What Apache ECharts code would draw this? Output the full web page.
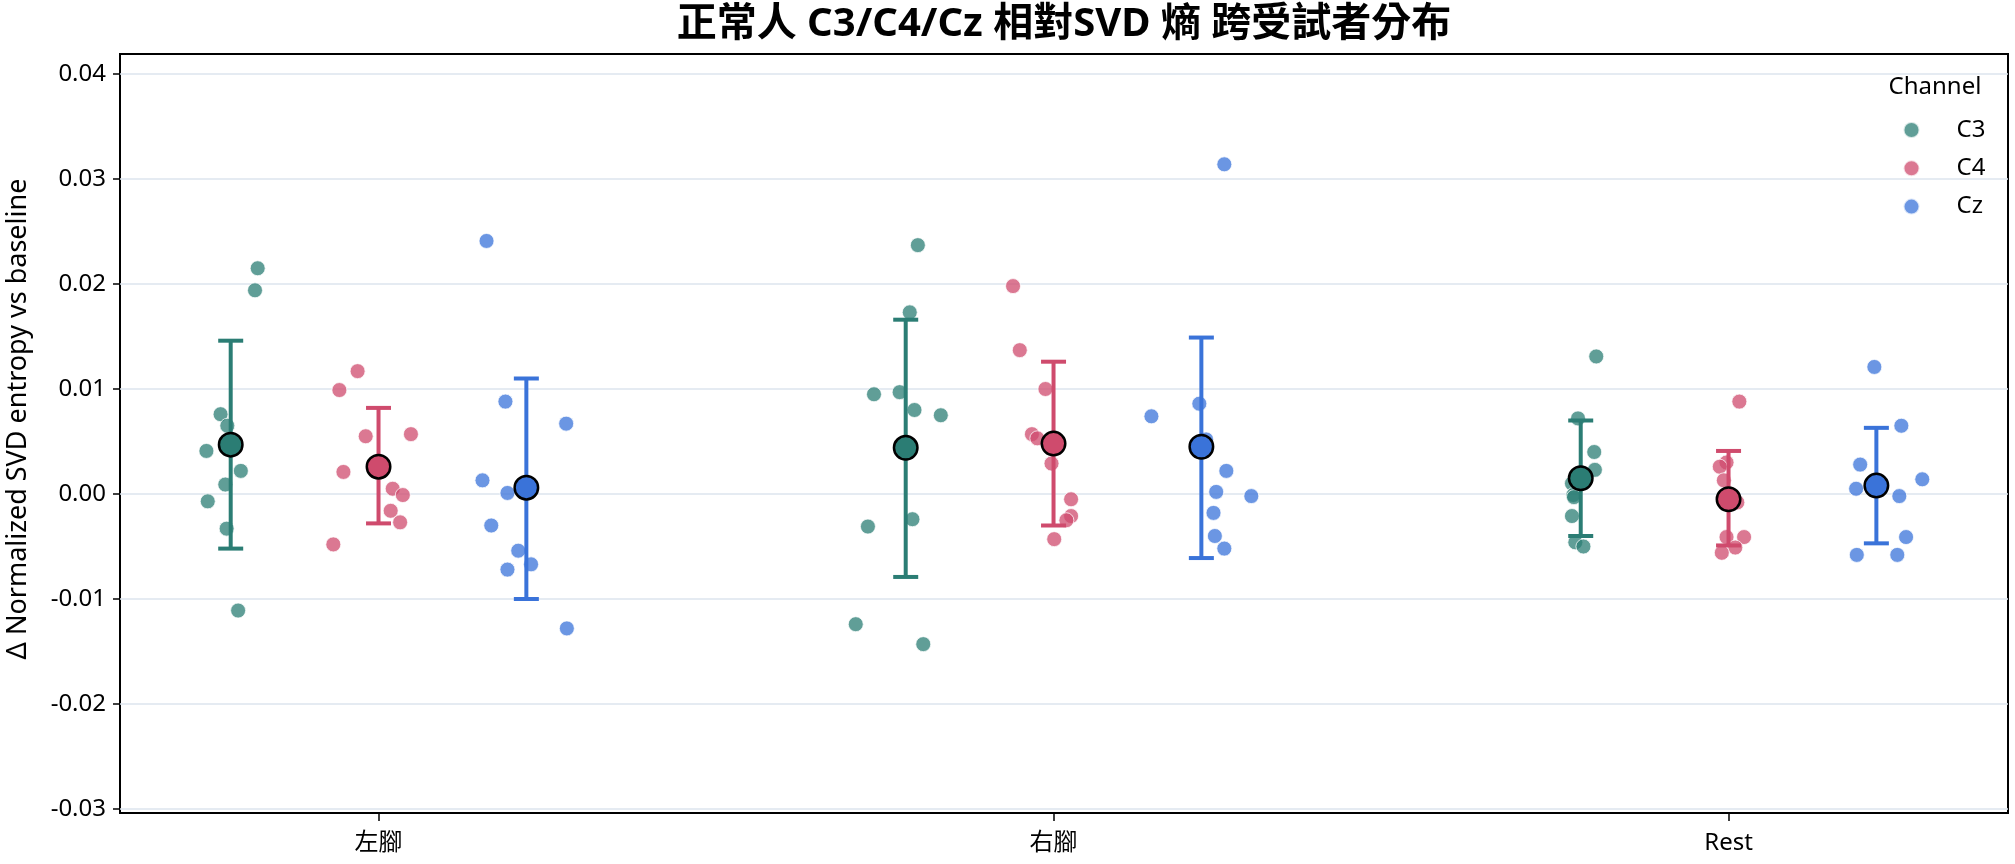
<!DOCTYPE html>
<html>
<head>
<meta charset="utf-8">
<title>正常人 C3/C4/Cz 相對SVD 熵 跨受試者分布</title>
<script src="https://cdn.jsdelivr.net/npm/echarts@6/dist/echarts.min.js"></script>
<style>
  html, body { margin: 0; padding: 0; background: #fff; }
  #main { width: 2015px; height: 864px; }
</style>
</head>
<body>
<div id="main"></div>
<script>
// 類別 / 通道
var categories = ['左腳', '右腳', 'Rest'];
var channels = ['C3', 'C4', 'Cz'];
// 通道在每個類別內的左右偏移 (dodge)
var dodge = [-0.219, 0, 0.219];

// 各受試者數值：[左腳], [右腳], [Rest]
var c3Values = [
    [0.0215, 0.0194, 0.0076, 0.0065, 0.0041, 0.0022, 0.0009, -0.0007, -0.0033, -0.0111],
    [0.0237, 0.0173, 0.0095, 0.0097, 0.0080, 0.0075, -0.0024, -0.0031, -0.0124, -0.0143],
    [0.0131, 0.0072, 0.0040, 0.0023, 0.0010, -0.0001, -0.0003, -0.0021, -0.0046, -0.0050]
];
var c3Jitter = [
    [0.040, 0.036, -0.015, -0.005, -0.036, 0.015, -0.008, -0.034, -0.006, 0.011],
    [0.018, 0.006, -0.047, -0.009, 0.013, 0.052, 0.010, -0.056, -0.074, 0.026],
    [0.023, -0.004, 0.020, 0.021, -0.013, -0.011, -0.010, -0.013, -0.008, 0.004]
];
var c4Values = [
    [0.0117, 0.0099, 0.0055, 0.0057, 0.0021, 0.0005, -0.0001, -0.0016, -0.0027, -0.0048],
    [0.0198, 0.0137, 0.0100, 0.0057, 0.0053, 0.0029, -0.0005, -0.0021, -0.0025, -0.0043],
    [0.0088, 0.0030, 0.0026, 0.0013, -0.0008, -0.0041, -0.0041, -0.0051, -0.0056, -0.0007]
];
var c4Jitter = [
    [-0.031, -0.058, -0.019, 0.048, -0.052, 0.021, 0.036, 0.018, 0.032, -0.067],
    [-0.060, -0.050, -0.012, -0.032, -0.024, -0.003, 0.026, 0.026, 0.019, 0.001],
    [0.016, -0.003, -0.013, -0.007, 0.013, -0.003, 0.023, 0.010, -0.010, 0.000]
];
var czValues = [
    [0.0241, 0.0088, 0.0067, 0.0013, 0.0001, -0.0030, -0.0054, -0.0067, -0.0072, -0.0128],
    [0.0314, 0.0074, 0.0086, 0.0052, 0.0022, 0.0002, -0.0002, -0.0018, -0.0040, -0.0052],
    [0.0121, 0.0065, 0.0028, 0.0014, 0.0005, -0.0002, -0.0041, -0.0058, -0.0058, 0.0007]
];
var czJitter = [
    [-0.059, -0.031, 0.059, -0.065, -0.028, -0.052, -0.012, 0.007, -0.028, 0.060],
    [0.034, -0.074, -0.003, 0.007, 0.037, 0.022, 0.074, 0.018, 0.020, 0.034],
    [-0.003, 0.037, -0.024, 0.068, -0.030, 0.034, 0.044, -0.029, 0.031, 0.000]
];

// 平均值與誤差線 (mean ± SD)
var c3Mean = [0.0047, 0.0044, 0.0015];
var c3Low = [-0.0052, -0.0079, -0.0040];
var c3High = [0.0146, 0.0166, 0.0070];
var c4Mean = [0.0026, 0.0048, -0.0005];
var c4Low = [-0.0028, -0.0030, -0.0049];
var c4High = [0.0082, 0.0126, 0.0041];
var czMean = [0.0006, 0.0045, 0.0008];
var czLow = [-0.0100, -0.0061, -0.0047];
var czHigh = [0.0110, 0.0149, 0.0063];

var colors = ['#2b7d74', '#cf4b6d', '#3a73d9'];
var FONT = "'Noto Sans', 'Noto Sans CJK TC', sans-serif";

var valueSets = [c3Values, c4Values, czValues];
var jitterSets = [c3Jitter, c4Jitter, czJitter];
var meanSets = [c3Mean, c4Mean, czMean];
var lowSets = [c3Low, c4Low, czLow];
var highSets = [c3High, c4High, czHigh];

var chart = echarts.init(document.getElementById('main'));

// 受試者散點
function buildPoints(ci) {
    var pts = [];
    for (var k = 0; k < categories.length; k++) {
        for (var i = 0; i < valueSets[ci][k].length; i++) {
            pts.push([k + dodge[ci] + jitterSets[ci][k][i], valueSets[ci][k][i]]);
        }
    }
    return pts;
}

// 誤差線 (含上下橫帽)
function errorBarRenderer(color) {
    return function (params, api) {
        var top = api.coord([api.value(0), api.value(2)]);
        var bottom = api.coord([api.value(0), api.value(1)]);
        var cap = 12.5;
        function seg(x1, y1, x2, y2) {
            return {
                type: 'line',
                shape: { x1: x1, y1: y1, x2: x2, y2: y2 },
                style: { stroke: color, lineWidth: 4, fill: null }
            };
        }
        return {
            type: 'group',
            children: [
                seg(top[0], top[1], bottom[0], bottom[1]),
                seg(top[0] - cap, top[1], top[0] + cap, top[1]),
                seg(bottom[0] - cap, bottom[1], bottom[0] + cap, bottom[1])
            ]
        };
    };
}

var series = [];
for (var ci = 0; ci < channels.length; ci++) {
    series.push({
        name: channels[ci],
        type: 'scatter',
        xAxisIndex: 0,
        yAxisIndex: 0,
        data: buildPoints(ci),
        symbolSize: 15,
        itemStyle: { color: colors[ci], opacity: 0.75, borderColor: '#fff', borderWidth: 1 },
        silent: true,
        z: 2
    });
}
for (var ci = 0; ci < channels.length; ci++) {
    var bars = [];
    var means = [];
    for (var k = 0; k < categories.length; k++) {
        bars.push([k + dodge[ci], lowSets[ci][k], highSets[ci][k]]);
        means.push([k + dodge[ci], meanSets[ci][k]]);
    }
    series.push({
        name: channels[ci] + ' sd',
        type: 'custom',
        xAxisIndex: 0,
        yAxisIndex: 0,
        data: bars,
        encode: { x: 0, y: [1, 2] },
        renderItem: errorBarRenderer(colors[ci]),
        silent: true,
        z: 3
    });
    series.push({
        name: channels[ci] + ' mean',
        type: 'scatter',
        xAxisIndex: 0,
        yAxisIndex: 0,
        data: means,
        symbolSize: 23.5,
        itemStyle: { color: colors[ci], opacity: 1, borderColor: '#000', borderWidth: 2.5 },
        silent: true,
        z: 4
    });
}

var option = {
    animation: false,
    backgroundColor: '#fff',
    textStyle: { fontFamily: FONT },
    grid: [
        // 資料區 (0.04 ~ -0.03)
        { left: 120, right: 7, top: 74, bottom: 55 },
        // 外框
        { left: 120, right: 7, top: 54, bottom: 51, show: true, borderColor: '#000', borderWidth: 2, backgroundColor: 'transparent' },
        // 類別標籤
        { left: 378.6, width: 1350, top: 54, bottom: 51 }
    ],
    xAxis: [
        { gridIndex: 0, type: 'value', min: -0.383, max: 2.414, show: false },
        { gridIndex: 1, type: 'value', min: 0, max: 1, show: false },
        {
            gridIndex: 2,
            type: 'category',
            data: categories,
            boundaryGap: false,
            axisLine: { show: false },
            axisTick: { show: true, length: 8, alignWithLabel: true, lineStyle: { color: '#000', width: 1.5 } },
            axisLabel: { interval: 0, fontSize: 24, color: '#000', margin: 18, fontFamily: FONT },
            splitLine: { show: false }
        }
    ],
    yAxis: [
        {
            gridIndex: 0,
            type: 'value',
            position: 'left',
            min: -0.03,
            max: 0.04,
            interval: 0.01,
            axisLine: { show: false, onZero: false },
            axisTick: { show: true, length: 7, lineStyle: { color: '#000', width: 1.5 } },
            axisLabel: {
                fontSize: 24, color: '#000', margin: 14, fontFamily: FONT,
                formatter: function (v) { return v.toFixed(2); }
            },
            splitLine: { show: true, lineStyle: { color: '#dde5ee', width: 1.5 } }
        },
        { gridIndex: 1, type: 'value', min: 0, max: 1, show: false },
        { gridIndex: 2, type: 'value', min: 0, max: 1, show: false }
    ],
    legend: {
        data: channels,
        orient: 'vertical',
        left: 1897.5,
        top: 113,
        icon: 'circle',
        itemWidth: 16,
        itemHeight: 16,
        itemGap: 14.3,
        selectedMode: false,
        textStyle: { fontSize: 24, color: '#000', fontFamily: FONT, padding: [0, 0, 0, 32] }
    },
    graphic: [
        {
            type: 'text',
            x: 1064, y: 25,
            style: {
                text: '正常人 C3/C4/Cz 相對SVD 熵 跨受試者分布',
                font: "bold 40px 'Noto Sans', 'Noto Sans CJK TC', sans-serif",
                fill: '#000',
                align: 'center', verticalAlign: 'middle',
                textAlign: 'center', textVerticalAlign: 'middle'
            }
        },
        {
            type: 'text',
            x: 18, y: 419,
            rotation: Math.PI / 2,
            style: {
                text: 'Δ Normalized SVD entropy vs baseline',
                font: "27px 'Noto Sans', 'Noto Sans CJK TC', sans-serif",
                fill: '#000',
                align: 'center', verticalAlign: 'middle',
                textAlign: 'center', textVerticalAlign: 'middle'
            }
        },
        {
            type: 'text',
            x: 1935, y: 87,
            style: {
                text: 'Channel',
                font: "24px 'Noto Sans', 'Noto Sans CJK TC', sans-serif",
                fill: '#000',
                align: 'center', verticalAlign: 'middle',
                textAlign: 'center', textVerticalAlign: 'middle'
            }
        }
    ],
    series: series
};

chart.setOption(option);
</script>
</body>
</html>
